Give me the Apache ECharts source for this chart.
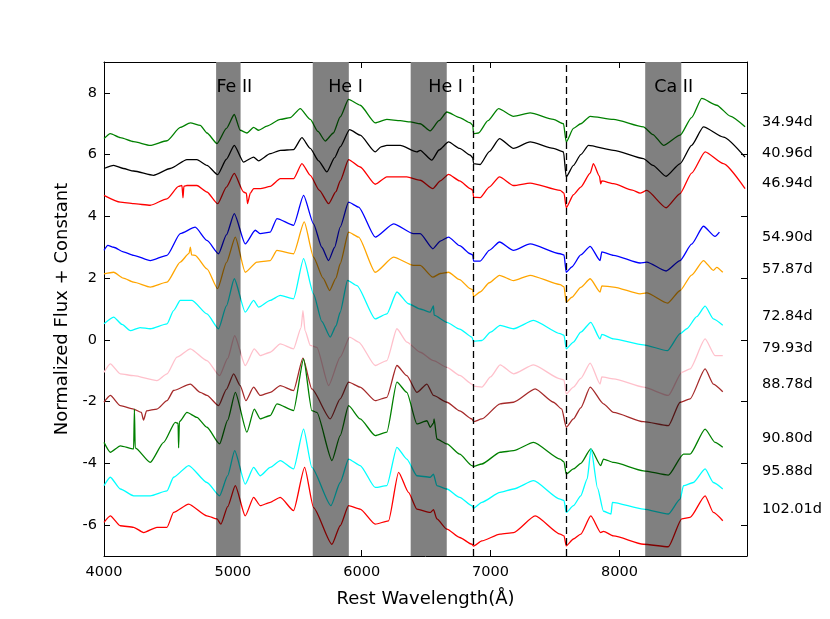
<!DOCTYPE html>
<html lang="en">
<head>
<meta charset="UTF-8">
<title>Spectra</title>
<script src="https://cdn.jsdelivr.net/npm/echarts@6/dist/echarts.min.js"></script>
<style>html,body{margin:0;background:#fff}#main{width:830px;height:619px}</style>
</head>
<body>
<div id="main"></div>
<script>
// wavelength (Å) and normalized flux + constant
var spec3494 = [[4000,6.52],[4049,6.68],[4127,6.55],[4230,6.42],[4359,6.30],[4489,6.45],[4592,6.88],[4670,7.03],[4747,6.95],[4799,6.70],[4877,6.36],[4950,6.85],[5011,7.30],[5057,6.79],[5109,6.70],[5161,6.88],[5200,6.79],[5264,6.92],[5368,7.14],[5445,7.20],[5523,7.49],[5601,7.14],[5660,6.75],[5717,6.44],[5780,6.70],[5833,7.22],[5898,7.79],[5988,7.60],[6105,7.03],[6195,7.14],[6300,7.10],[6376,7.06],[6454,7.00],[6531,6.77],[6600,7.10],[6661,7.38],[6760,7.20],[6842,7.03],[6862,6.95],[6868,6.68],[6906,6.70],[6980,7.10],[7062,7.49],[7178,7.24],[7307,7.35],[7488,7.14],[7566,7.00],[7587,6.41],[7643,6.85],[7700,7.00],[7773,7.24],[7954,7.14],[8186,6.90],[8260,6.65],[8342,6.30],[8471,6.63],[8560,7.20],[8639,7.82],[8755,7.60],[8860,7.25],[8975,6.90]];
var spec4096 = [[4000,5.55],[4075,5.65],[4150,5.55],[4230,5.47],[4385,5.33],[4514,5.55],[4644,5.84],[4721,5.84],[4799,5.65],[4882,5.35],[4950,5.85],[5011,6.30],[5083,5.76],[5161,5.92],[5200,5.80],[5290,6.03],[5368,6.14],[5471,6.16],[5536,6.55],[5601,6.20],[5665,5.80],[5730,5.44],[5790,5.90],[5833,6.25],[5906,6.81],[5988,6.63],[6105,6.09],[6150,6.25],[6195,6.30],[6299,6.30],[6428,6.09],[6454,6.14],[6544,5.82],[6600,6.15],[6674,6.41],[6760,6.20],[6842,5.98],[6862,5.90],[6868,5.71],[6919,5.68],[6990,6.10],[7069,6.52],[7178,6.20],[7307,6.41],[7488,6.20],[7566,6.09],[7587,5.28],[7643,5.65],[7700,6.00],[7760,6.30],[7954,6.14],[8186,5.87],[8260,5.65],[8362,5.30],[8471,5.71],[8560,6.30],[8652,6.90],[8807,6.57],[8975,5.92]];
var spec4694 = [[4000,4.68],[4127,4.46],[4230,4.41],[4359,4.36],[4489,4.57],[4579,4.97],[4605,5.00],[4613,4.60],[4620,4.98],[4644,5.00],[4721,5.00],[4799,4.79],[4882,4.41],[4950,4.95],[5011,5.39],[5083,4.79],[5105,4.75],[5114,4.41],[5135,4.75],[5161,4.90],[5213,4.90],[5290,4.97],[5368,5.22],[5471,5.22],[5536,5.71],[5601,5.33],[5670,4.85],[5743,4.41],[5800,4.80],[5833,5.15],[5898,5.84],[5988,5.60],[6105,5.04],[6195,5.28],[6350,5.28],[6454,5.17],[6552,4.90],[6610,5.15],[6674,5.36],[6760,5.15],[6842,4.90],[6862,4.85],[6868,4.62],[6919,4.61],[6990,4.95],[7069,5.28],[7178,5.00],[7307,5.08],[7540,4.84],[7570,4.75],[7587,4.28],[7643,4.70],[7700,4.95],[7773,5.40],[7798,5.71],[7845,5.30],[7855,5.05],[7863,5.15],[7954,5.06],[8100,4.85],[8160,4.75],[8212,4.84],[8362,4.28],[8471,4.74],[8560,5.40],[8665,6.09],[8807,5.71],[8975,4.90]];
var spec5490 = [[4000,2.90],[4030,3.06],[4075,3.00],[4150,2.85],[4230,2.74],[4359,2.57],[4489,2.74],[4592,3.44],[4708,3.65],[4799,3.22],[4889,2.79],[4950,3.40],[5011,4.09],[5096,3.11],[5174,3.55],[5213,3.44],[5290,3.49],[5342,3.93],[5471,3.71],[5549,4.68],[5626,3.76],[5690,3.00],[5743,2.57],[5790,3.00],[5833,3.65],[5898,4.46],[5976,4.30],[6105,3.33],[6247,3.76],[6402,3.44],[6454,3.44],[6552,2.95],[6610,3.20],[6674,3.33],[6760,3.05],[6842,2.79],[6862,2.75],[6868,2.55],[6919,2.55],[6990,2.90],[7069,3.17],[7178,2.90],[7307,3.11],[7540,2.79],[7570,2.75],[7587,2.19],[7630,2.36],[7700,2.75],[7773,3.03],[7850,2.57],[7863,2.85],[7954,2.74],[8160,2.49],[8212,2.52],[8362,2.23],[8471,2.57],[8560,3.10],[8652,3.68],[8742,3.35],[8776,3.49]];
var spec5787 = [[4000,2.14],[4075,2.19],[4150,2.00],[4230,1.87],[4359,1.71],[4489,1.87],[4592,2.52],[4660,2.80],[4670,3.00],[4680,2.75],[4708,2.74],[4799,2.30],[4882,1.66],[4950,2.50],[5019,3.33],[5096,2.19],[5187,2.52],[5290,2.57],[5342,2.90],[5471,2.79],[5554,3.82],[5626,2.68],[5700,2.00],[5751,1.60],[5800,2.00],[5833,2.47],[5898,3.49],[5976,3.33],[6105,2.19],[6247,2.68],[6402,2.41],[6454,2.41],[6552,2.03],[6610,2.15],[6674,2.19],[6760,1.95],[6842,1.66],[6862,1.62],[6868,1.40],[6919,1.55],[6990,1.85],[7069,2.09],[7178,1.92],[7307,2.09],[7540,1.79],[7570,1.72],[7587,1.22],[7630,1.38],[7700,1.70],[7773,1.98],[7850,1.55],[7863,1.75],[7954,1.71],[8160,1.49],[8212,1.52],[8373,1.19],[8471,1.60],[8560,2.10],[8652,2.57],[8729,2.25],[8755,2.35],[8802,2.19]];
var spec7284 = [[4000,0.52],[4075,0.74],[4140,0.50],[4204,0.30],[4280,0.40],[4359,0.36],[4489,0.52],[4540,0.95],[4592,1.28],[4683,1.28],[4799,0.84],[4889,0.36],[4950,1.10],[5011,1.98],[5096,0.90],[5161,1.28],[5200,1.06],[5290,1.28],[5368,1.44],[5471,1.33],[5549,2.63],[5626,1.49],[5690,0.60],[5756,0.09],[5800,0.45],[5833,0.90],[5890,1.93],[5963,1.76],[6105,0.68],[6195,0.84],[6273,1.55],[6363,1.17],[6454,1.00],[6532,0.90],[6557,1.10],[6562,0.80],[6661,0.57],[6760,0.35],[6855,0.09],[6868,-0.05],[6932,-0.02],[7000,0.25],[7074,0.47],[7178,0.36],[7333,0.63],[7540,0.20],[7570,0.15],[7587,-0.29],[7643,-0.07],[7700,0.25],[7778,0.57],[7850,0.03],[7863,0.18],[7954,0.03],[8186,-0.16],[8373,-0.35],[8471,0.20],[8523,0.36],[8600,0.75],[8665,1.09],[8729,0.68],[8802,0.47]];
var spec7993 = [[4000,-1.05],[4049,-0.78],[4127,-1.10],[4230,-1.16],[4411,-1.32],[4489,-1.10],[4566,-0.56],[4670,-0.29],[4799,-0.67],[4897,-1.16],[4960,-0.60],[5014,0.14],[5096,-0.83],[5166,-0.29],[5213,-0.51],[5290,-0.40],[5368,-0.13],[5471,-0.29],[5530,0.40],[5544,0.95],[5560,0.30],[5601,-0.18],[5652,-0.24],[5743,-1.48],[5833,-0.56],[5906,0.09],[5976,-0.07],[6105,-0.83],[6195,-0.67],[6273,0.36],[6350,-0.07],[6454,-0.40],[6557,-0.67],[6661,-0.89],[6760,-1.15],[6855,-1.43],[6868,-1.50],[6932,-1.53],[7000,-1.20],[7074,-0.81],[7178,-1.10],[7333,-0.81],[7540,-1.26],[7570,-1.30],[7587,-1.75],[7643,-1.53],[7700,-1.25],[7773,-0.75],[7850,-1.43],[7863,-1.20],[7954,-1.26],[8186,-1.53],[8380,-1.80],[8484,-1.05],[8548,-0.94],[8665,0.03],[8742,-0.51],[8802,-0.51]];
var spec8878 = [[4000,-2.02],[4049,-1.80],[4127,-2.13],[4230,-2.24],[4290,-2.35],[4307,-2.60],[4330,-2.30],[4411,-2.24],[4489,-1.97],[4540,-1.64],[4670,-1.43],[4747,-1.70],[4799,-1.80],[4889,-2.13],[4950,-1.60],[5006,-1.10],[5057,-1.48],[5101,-1.97],[5161,-1.53],[5213,-1.80],[5290,-1.70],[5368,-1.48],[5471,-1.64],[5544,-0.59],[5613,-1.59],[5756,-2.56],[5833,-1.91],[5898,-1.37],[5988,-1.53],[6105,-1.97],[6195,-1.86],[6273,-0.83],[6350,-1.16],[6428,-1.70],[6506,-1.43],[6557,-1.80],[6661,-2.02],[6760,-2.30],[6855,-2.56],[6868,-2.65],[6932,-2.56],[7074,-2.07],[7178,-2.02],[7346,-1.59],[7488,-2.02],[7553,-2.24],[7587,-2.83],[7643,-2.56],[7700,-2.20],[7773,-1.53],[7876,-2.07],[7954,-2.35],[8186,-2.65],[8380,-2.78],[8471,-2.02],[8548,-1.91],[8665,-0.94],[8729,-1.43],[8802,-1.68]];
var spec9080 = [[4000,-3.32],[4049,-3.64],[4127,-3.43],[4230,-3.53],[4236,-2.24],[4242,-3.50],[4359,-3.97],[4463,-3.32],[4553,-2.67],[4575,-2.70],[4579,-3.50],[4585,-2.65],[4644,-2.35],[4721,-2.51],[4799,-2.83],[4897,-3.37],[4960,-2.60],[5019,-1.70],[5109,-2.99],[5166,-2.24],[5213,-2.56],[5290,-2.45],[5342,-2.07],[5471,-2.29],[5549,-0.62],[5613,-2.29],[5652,-2.35],[5769,-3.91],[5833,-3.10],[5898,-2.13],[5988,-2.56],[6105,-3.10],[6195,-2.99],[6273,-1.37],[6350,-1.70],[6428,-2.72],[6506,-2.62],[6532,-2.83],[6557,-2.70],[6562,-2.56],[6583,-3.21],[6661,-3.37],[6760,-3.70],[6855,-4.07],[6868,-4.10],[6932,-4.02],[7074,-3.64],[7178,-3.59],[7333,-3.32],[7540,-3.86],[7570,-3.95],[7587,-4.35],[7643,-4.18],[7700,-4.00],[7778,-3.53],[7855,-4.07],[7876,-3.86],[7954,-3.97],[8186,-4.24],[8380,-4.38],[8497,-3.70],[8548,-3.70],[8665,-2.89],[8742,-3.32],[8802,-3.48]];
var spec9588 = [[4000,-4.72],[4049,-4.45],[4127,-4.83],[4230,-5.05],[4359,-5.05],[4489,-4.89],[4540,-4.45],[4657,-4.07],[4799,-4.62],[4897,-5.05],[4960,-4.40],[5014,-3.59],[5096,-4.67],[5161,-4.13],[5213,-4.40],[5290,-4.13],[5368,-3.91],[5471,-4.18],[5549,-2.89],[5613,-4.13],[5761,-5.37],[5833,-4.62],[5898,-3.86],[5988,-4.07],[6105,-4.78],[6195,-4.72],[6273,-3.48],[6350,-3.86],[6428,-4.40],[6532,-4.45],[6557,-4.35],[6583,-4.72],[6661,-4.83],[6760,-5.10],[6855,-5.37],[6868,-5.45],[6932,-5.26],[7074,-4.94],[7178,-4.83],[7333,-4.56],[7540,-5.16],[7570,-5.20],[7587,-5.59],[7643,-5.37],[7700,-5.05],[7750,-4.50],[7780,-3.53],[7830,-4.80],[7876,-5.55],[7935,-5.64],[7945,-5.26],[8186,-5.48],[8380,-5.64],[8471,-5.16],[8497,-4.72],[8574,-4.62],[8665,-4.18],[8729,-4.62],[8802,-4.83]];
var spec10201 = [[4000,-5.91],[4049,-5.70],[4127,-6.02],[4230,-6.07],[4307,-6.24],[4411,-6.07],[4489,-6.07],[4540,-5.59],[4657,-5.32],[4799,-5.70],[4877,-5.80],[4907,-5.97],[4960,-5.40],[5019,-4.72],[5096,-5.70],[5161,-5.10],[5213,-5.37],[5290,-5.26],[5368,-5.10],[5471,-5.53],[5557,-4.13],[5626,-5.43],[5769,-6.62],[5833,-6.02],[5898,-5.37],[5988,-5.48],[6105,-5.97],[6208,-5.86],[6286,-4.29],[6363,-4.94],[6428,-5.48],[6532,-5.59],[6557,-5.50],[6583,-5.80],[6661,-6.13],[6760,-6.40],[6855,-6.62],[6868,-6.68],[6932,-6.51],[7074,-6.29],[7178,-6.24],[7346,-5.70],[7540,-6.29],[7570,-6.35],[7587,-6.67],[7643,-6.45],[7700,-6.29],[7778,-5.70],[7855,-6.24],[7876,-6.20],[7954,-6.35],[8186,-6.62],[8380,-6.70],[8484,-5.80],[8548,-5.75],[8665,-5.05],[8729,-5.59],[8802,-5.86]];

var epochs = ['34.94d','40.96d','46.94d','54.90d','57.87d','72.84d','79.93d','88.78d','90.80d','95.88d','102.01d'];
var epochLabelY = [7.06, 6.05, 5.06, 3.33, 2.28, 0.76, -0.28, -1.45, -3.20, -4.27, -5.47];
var bands = [[4870, 5060], [5620, 5900], [6380, 6660], [8200, 8480]];
var bandNames = ['Fe II', 'He I', 'He I', 'Ca II'];
var bandNameX = [4873, 5740, 6517, 8270];
var telluric = [6868, 7585];
var xTicks = [4000, 5000, 6000, 7000, 8000];
var yTicks = [-6, -4, -2, 0, 2, 4, 6, 8];

var spectra = [spec3494, spec4096, spec4694, spec5490, spec5787, spec7284, spec7993, spec8878, spec9080, spec9588, spec10201];
var colors = ['#008000', '#000000', '#ff0000', '#0000ff', '#ffa500', '#00ffff', '#ffc0cb', '#a52a2a', '#008000', '#00ffff', '#ff0000'];
var font = 'DejaVu Sans';

// colour seen through the half-black shading
function shaded(hex) {
    var n = parseInt(hex.slice(1), 16);
    var r = (n >> 16) & 255, g = (n >> 8) & 255, b = n & 255;
    return 'rgb(' + Math.round(r / 2) + ',' + Math.round(g / 2) + ',' + Math.round(b / 2) + ')';
}

var chart = echarts.init(document.getElementById('main'));

var series = spectra.map(function (d, i) {
    return {
        type: 'line', name: epochs[i], data: d,
        symbol: 'none', showSymbol: false, silent: true, z: 3,
        smooth: 0.2, smoothMonotone: 'x',
        lineStyle: {width: 1.3},
        itemStyle: {color: colors[i]}
    };
});
// grey bands under the spectra, dashed telluric markers over them
series.push({
    type: 'line', data: [], z: 1, silent: true,
    markArea: {
        silent: true,
        itemStyle: {color: '#808080'},
        data: bands.map(function (b) { return [{xAxis: b[0]}, {xAxis: b[1]}]; })
    }
});
series.push({
    type: 'line', data: [], z: 6, silent: true,
    markLine: {
        silent: true, symbol: 'none', animation: false,
        label: {show: false},
        lineStyle: {color: '#000', type: [7, 4], width: 1.3},
        data: telluric.map(function (x) { return {xAxis: x}; })
    }
});

var visualMaps = spectra.map(function (d, i) {
    return {
        type: 'piecewise', show: false, seriesIndex: i, dimension: 0,
        pieces: bands.map(function (b) { return {gte: b[0], lte: b[1], color: shaded(colors[i])}; }),
        outOfRange: {color: colors[i]}
    };
});

function plain(v) { return String(v); }

function xAx(pos, main) {
    return {
        type: 'value', min: 4000, max: 8990, position: pos,
        axisLine: {show: true, onZero: false, lineStyle: {color: '#000', width: 1}},
        axisTick: {show: true, inside: true, length: 6, customValues: xTicks, lineStyle: {color: '#000'}},
        axisLabel: {show: main, customValues: xTicks, formatter: plain, color: '#000', fontSize: 14.5, fontFamily: font, margin: 9},
        splitLine: {show: false},
        name: main ? 'Rest Wavelength(Å)' : '', nameLocation: 'middle', nameGap: 34,
        nameTextStyle: {color: '#000', fontSize: 18, fontFamily: font}
    };
}
function yAx(pos, main) {
    return {
        type: 'value', min: -7, max: 9, position: pos,
        axisLine: {show: true, onZero: false, lineStyle: {color: '#000', width: 1}},
        axisTick: {show: true, inside: true, length: 6, customValues: yTicks, lineStyle: {color: '#000'}},
        axisLabel: {show: main, customValues: yTicks, formatter: plain, color: '#000', fontSize: 14.5, fontFamily: font, margin: 7},
        splitLine: {show: false},
        name: main ? 'Normalized Flux + Constant' : '', nameLocation: 'middle', nameGap: 33,
        nameTextStyle: {color: '#000', fontSize: 18, fontFamily: font}
    };
}

chart.setOption({
    animation: false,
    backgroundColor: '#fff',
    grid: {left: 104, right: 83, top: 62, bottom: 63},
    xAxis: [xAx('bottom', true), xAx('top', false)],
    yAxis: [yAx('left', true), yAx('right', false)],
    visualMap: visualMaps,
    series: series
});

var graphics = [];
bandNames.forEach(function (t, i) {
    var p = chart.convertToPixel({xAxisIndex: 0, yAxisIndex: 0}, [bandNameX[i], 8.18]);
    graphics.push({type: 'text', x: p[0], y: p[1], z: 100,
        style: {text: t, fill: '#000', fontSize: 17.5, fontFamily: font, verticalAlign: 'middle', textVerticalAlign: 'middle'}});
});
epochs.forEach(function (t, i) {
    var p = chart.convertToPixel({xAxisIndex: 0, yAxisIndex: 0}, [8990, epochLabelY[i]]);
    graphics.push({type: 'text', x: p[0] + 15, y: p[1], z: 100,
        style: {text: t, fill: '#000', fontSize: 14.5, fontFamily: font, verticalAlign: 'middle', textVerticalAlign: 'middle'}});
});
chart.setOption({graphic: graphics});
</script>
</body>
</html>
